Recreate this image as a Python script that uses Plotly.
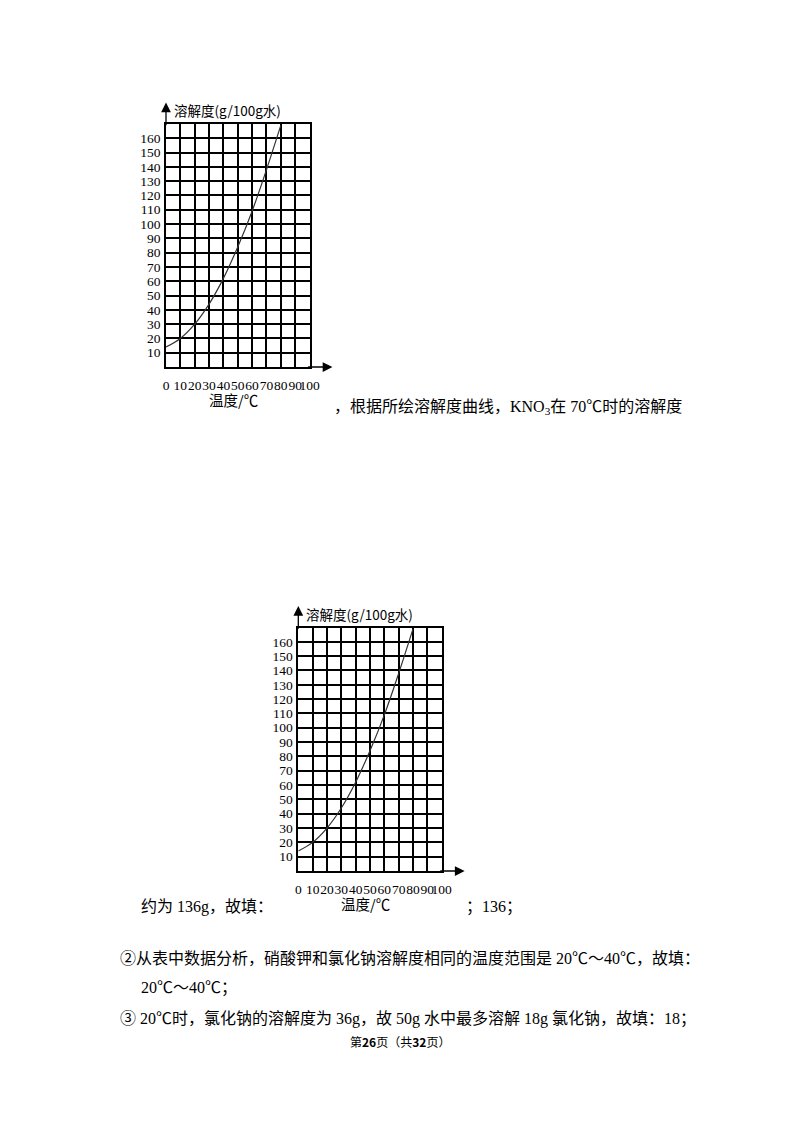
import plotly.graph_objects as go

# KNO3 solubility curve (g / 100 g water)
temps = [0, 10, 20, 30, 40, 50, 60, 70, 80]
solubility = [14, 20, 30, 44, 62, 84, 109, 138, 169]

x_ticks = [0, 10, 20, 30, 40, 50, 60, 70, 80, 90, 100]
x_ticktext = ["0", "10", "20", "30", "40", "50", "60", "70", "80", "90", "100"]
y_ticks = [10, 20, 30, 40, 50, 60, 70, 80, 90, 100, 110, 120, 130, 140, 150, 160]
y_ticktext = [str(v) for v in y_ticks]

y_title = "溶解度(g/100g水)"
x_title = "温度/℃"

W, H = 800, 1132
OFF = 8  # the page body margin pushes the figure 8px right and down
SERIF = "Liberation Serif, Noto Sans CJK SC"
CJK = "Noto Sans CJK SC, Liberation Serif"


def px_x(p):
    return (p - OFF) / W


def px_y(p):
    return 1 - (p - OFF) / H


# (left, right, top, bottom) of each grid in page pixels
boxes = [(166, 309.5, 124, 367), (298.3, 441.7, 627.5, 871)]

fig = go.Figure()
layout = dict(
    template="none",
    width=W, height=H,
    margin=dict(l=0, r=0, t=0, b=0, pad=0),
    paper_bgcolor="white", plot_bgcolor="white",
    font=dict(family=SERIF, color="black"),
    showlegend=False, hovermode=False,
)
annotations = []

for i, (l, r, t, b) in enumerate(boxes, start=1):
    sfx = "" if i == 1 else str(i)
    xref, yref = "x" + sfx, "y" + sfx
    fig.add_trace(go.Scatter(
        x=temps, y=solubility, mode="lines",
        line=dict(color="#333333", width=1.2, shape="spline", smoothing=1.0),
        xaxis=xref, yaxis=yref, cliponaxis=False,
    ))
    layout["xaxis" + sfx] = dict(
        domain=[px_x(l), px_x(r)], range=[0, 100], anchor=yref,
        tickmode="array", tickvals=x_ticks, ticktext=x_ticktext,
        showgrid=True, gridcolor="black", gridwidth=1.5, zeroline=False,
        showline=True, linecolor="black", linewidth=1.5, mirror=True,
        ticks="", ticklabelstandoff=5, tickangle=0, automargin=False,
        tickfont=dict(family=SERIF, size=13.5, color="black"),
    )
    layout["yaxis" + sfx] = dict(
        domain=[px_y(b), px_y(t)], range=[0, 170], anchor=xref,
        tickmode="array", tickvals=y_ticks, ticktext=y_ticktext,
        showgrid=True, gridcolor="black", gridwidth=1.5, zeroline=False,
        showline=True, linecolor="black", linewidth=1.5, mirror=True,
        ticks="", ticklabelstandoff=1, automargin=False,
        tickfont=dict(family=SERIF, size=13.5, color="black"),
    )
    # axis arrows
    annotations.append(dict(
        xref=xref, yref=yref, axref=xref, ayref=yref,
        x=0, y=185, ax=0, ay=168, text="", showarrow=True,
        arrowhead=2, arrowsize=1.5, arrowwidth=1.3, arrowcolor="black",
    ))
    annotations.append(dict(
        xref=xref, yref=yref, axref=xref, ayref=yref,
        x=116, y=0, ax=98, ay=0, text="", showarrow=True,
        arrowhead=2, arrowsize=1.5, arrowwidth=1.3, arrowcolor="black",
    ))
    # axis titles in page coordinates
    annotations.append(dict(
        xref="paper", yref="paper", x=px_x(l + 6), y=px_y(t - 14),
        text=y_title, showarrow=False, xanchor="left", yanchor="middle",
        font=dict(family=CJK, size=13.5, color="black"),
    ))
    annotations.append(dict(
        xref="paper", yref="paper", x=px_x(l + 67), y=px_y(b + 32),
        text=x_title, showarrow=False, xanchor="center", yanchor="middle",
        font=dict(family=CJK, size=14.5, color="black"),
    ))

# surrounding page text
page_text = [
    (332, 407, "，根据所绘溶解度曲线，KNO<sub>3</sub>在 70℃时的溶解度"),
    (139, 907, "约为 136g，故填："),
    (464, 907, "；136；"),
    (118, 958, "②从表中数据分析，硝酸钾和氯化钠溶解度相同的温度范围是 20℃～40℃，故填："),
    (139, 988, "20℃～40℃；"),
    (118, 1019, "③ 20℃时，氯化钠的溶解度为 36g，故 50g 水中最多溶解 18g 氯化钠，故填：18；"),
]
for x0, y0, txt in page_text:
    annotations.append(dict(
        xref="paper", yref="paper", x=px_x(x0), y=px_y(y0), text=txt,
        showarrow=False, xanchor="left", yanchor="middle",
        font=dict(family=SERIF, size=16, color="black"),
    ))

annotations.append(dict(
    xref="paper", yref="paper", x=px_x(400), y=px_y(1041),
    text="第<b>26</b>页（共<b>32</b>页）", showarrow=False,
    xanchor="center", yanchor="middle",
    font=dict(family=CJK, size=12, color="black"),
))

layout["annotations"] = annotations
fig.update_layout(**layout)
fig.write_html("out.html")
